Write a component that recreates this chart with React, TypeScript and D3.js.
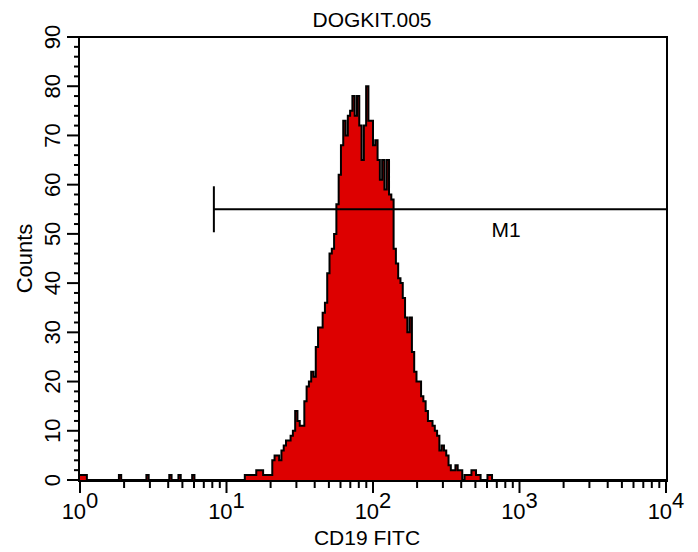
import React from "react";
import * as d3 from "d3";

// histogram: 256 log channels over 4 decades
const title = "DOGKIT.005";
const xLabel = "CD19 FITC";
const yLabel = "Counts";
const decades = [0, 1, 2, 3, 4];
const yMajor = [0, 10, 20, 30, 40, 50, 60, 70, 80, 90];
const markerName = "M1";
const markerRange = [8.2, 10000];
const markerLevel = 55;

const counts = [
  1, 1, 1, 0, 0, 0, 0, 0, 0, 0, 0, 0, 0, 0, 0, 0,
  0, 1, 0, 0, 0, 0, 0, 0, 0, 0, 0, 0, 0, 1, 0, 0,
  0, 0, 0, 0, 0, 0, 0, 1, 0, 0, 0, 1, 0, 0, 0, 0,
  0, 1, 0, 0, 0, 0, 0, 0, 0, 0, 0, 0, 0, 0, 0, 0,
  0, 0, 0, 0, 0, 0, 0, 0, 1, 1, 1, 1, 1, 2, 2, 2,
  1, 1, 1, 1, 4, 5, 5, 4, 6, 7, 8, 8, 9, 10, 14, 12,
  11, 11, 16, 19, 20, 22, 21, 27, 31, 31, 34, 36, 42, 46, 47, 50,
  56, 62, 68, 73, 70, 74, 75, 78, 74, 78, 72, 65, 72, 80, 73, 73,
  68, 69, 65, 61, 65, 59, 65, 58, 57, 47, 44, 41, 40, 37, 33, 30,
  33, 26, 22, 20, 20, 17, 16, 14, 12, 12, 11, 10, 9, 6, 7, 6,
  5, 3, 2, 2, 3, 2, 2, 0, 1, 1, 1, 2, 2, 1, 1, 0,
  0, 0, 1, 1, 0, 0, 0, 0, 0, 0, 0, 0, 0, 0, 0, 0,
  0, 0, 0, 0, 0, 0, 0, 0, 0, 0, 0, 0, 0, 0, 0, 0,
  0, 0, 0, 0, 0, 0, 0, 0, 0, 0, 0, 0, 0, 0, 0, 0,
  0, 0, 0, 0, 0, 0, 0, 0, 0, 0, 0, 0, 0, 0, 0, 0,
  0, 0, 0, 0, 0, 0, 0, 0, 0, 0, 0, 0, 0, 0, 0, 0,
];

const W = 698;
const H = 552;
const left = 80;
const right = 666;
const top = 37;
const bottom = 480;
const font = "'Liberation Sans', Arial, Helvetica, sans-serif";

export default function App() {
  const x = d3.scaleLog().domain([1, 10000]).range([left, right]);
  const y = d3.scaleLinear().domain([0, 90]).range([bottom, top]);

  const n = counts.length;
  const pts: [number, number][] = counts.map((c, i) => [x(Math.pow(10, (4 * i) / n)), y(c)]);
  pts.push([x(10000), y(counts[n - 1])]);

  const area = d3
    .area<[number, number]>()
    .x((d) => d[0])
    .y0(y(0))
    .y1((d) => d[1])
    .curve(d3.curveStepAfter);
  const line = d3
    .line<[number, number]>()
    .x((d) => d[0])
    .y((d) => d[1])
    .curve(d3.curveStepAfter);

  const minorX: number[] = [];
  decades.slice(0, -1).forEach((d) => {
    for (let k = 2; k <= 9; k++) minorX.push(k * Math.pow(10, d));
  });
  const minorY = d3.range(0, 91, 2).filter((v) => v % 10 !== 0);

  return (
    <svg
      width={W}
      height={H}
      style={{ position: "absolute", left: 0, top: 0, background: "#fff" }}
      fontFamily={font}
    >
      <text x={372} y={27} textAnchor="middle" fontSize={21}>
        {title}
      </text>

      {/* histogram */}
      <path d={area(pts) || ""} fill="#dd0000" />
      <path d={line(pts) || ""} fill="none" stroke="#000" strokeWidth={2} strokeLinejoin="miter" />

      {/* M1 marker */}
      <g stroke="#000" strokeWidth={2}>
        <line x1={x(markerRange[0])} x2={x(markerRange[1])} y1={y(markerLevel)} y2={y(markerLevel)} />
        <line
          x1={x(markerRange[0])}
          x2={x(markerRange[0])}
          y1={y(markerLevel) - 23}
          y2={y(markerLevel) + 23}
        />
      </g>
      <text x={506} y={y(markerLevel) + 28} textAnchor="middle" fontSize={21}>
        {markerName}
      </text>

      {/* frame */}
      <rect
        x={left - 1}
        y={top}
        width={right - left + 2}
        height={bottom - top + 1}
        fill="none"
        stroke="#000"
        strokeWidth={2}
      />

      {/* ticks */}
      <g stroke="#000" strokeWidth={2}>
        {decades.map((d) => (
          <line key={"xm" + d} x1={x(Math.pow(10, d))} x2={x(Math.pow(10, d))} y1={bottom + 1} y2={bottom + 13} />
        ))}
        {minorX.map((v) => (
          <line key={"xn" + v} x1={x(v)} x2={x(v)} y1={bottom + 1} y2={bottom + 8} />
        ))}
        {yMajor.map((v) => (
          <line key={"ym" + v} x1={left - 13} x2={left - 1} y1={y(v)} y2={y(v)} />
        ))}
        {minorY.map((v) => (
          <line key={"yn" + v} x1={left - 6} x2={left - 1} y1={y(v)} y2={y(v)} />
        ))}
      </g>

      {decades.map((d) => (
        <text key={"xl" + d} x={x(Math.pow(10, d))} y={519} textAnchor="middle" fontSize={22}>
          <tspan>10</tspan>
          <tspan dy={-11}>{d}</tspan>
        </text>
      ))}
      {yMajor.map((v) => (
        <text
          key={"yl" + v}
          transform={`translate(60,${y(v)}) rotate(-90)`}
          textAnchor="middle"
          fontSize={22}
        >
          {v}
        </text>
      ))}

      <text x={367} y={545} textAnchor="middle" fontSize={21}>
        {xLabel}
      </text>
      <text transform={`translate(32,${(top + bottom) / 2}) rotate(-90)`} textAnchor="middle" fontSize={22}>
        {yLabel}
      </text>
    </svg>
  );
}
